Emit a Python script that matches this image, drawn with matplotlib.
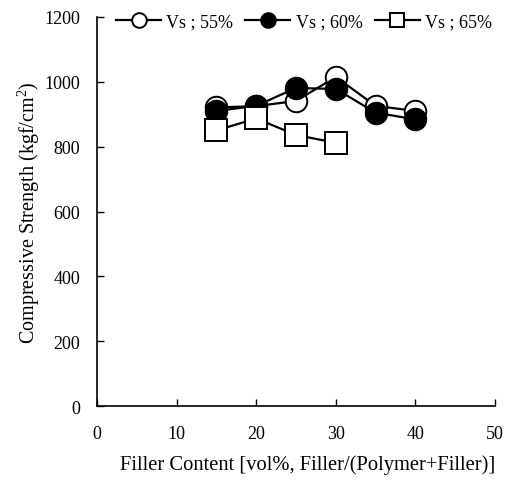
import matplotlib
matplotlib.use("Agg")
import matplotlib.pyplot as plt

plt.rcParams['font.family'] = ['Liberation Serif', 'DejaVu Serif']
plt.rcParams['mathtext.fontset'] = 'custom'
plt.rcParams['mathtext.rm'] = 'Liberation Serif'

# filler content (vol%)
filler = [15, 20, 25, 30, 35, 40]
filler_65 = [15, 20, 25, 30]

# compressive strength (kgf/cm2)
vs55 = [921, 925, 941, 1015, 926, 910]
vs60 = [910, 926, 981, 978, 905, 884]
vs65 = [850, 887, 836, 812]

labels = ['Vs ; 55%', 'Vs ; 60%', 'Vs ; 65%']

fig = plt.figure(figsize=(5.09, 4.81), dpi=100)
ax = fig.add_axes([0.1906, 0.1538, 0.7819, 0.8088])

ax.plot(filler, vs55, color='k', lw=1.6, marker='o', ms=15.5,
        mfc='white', mec='k', mew=1.4, label=labels[0], zorder=3)
ax.plot(filler, vs60, color='k', lw=1.6, marker='o', ms=15.5,
        mfc='k', mec='k', mew=1.4, label=labels[1], zorder=4)
ax.plot(filler_65, vs65, color='k', lw=1.6, marker='s', ms=15.5,
        mfc='white', mec='k', mew=1.4, label=labels[2], zorder=5)

ax.set_xlim(0, 50)
ax.set_ylim(0, 1200)
ax.set_xticks(range(0, 51, 10))
ax.set_yticks(range(0, 1201, 200))

for s in ['top', 'right']:
    ax.spines[s].set_visible(False)
for s in ['left', 'bottom']:
    ax.spines[s].set_linewidth(1.2)

ax.tick_params(direction='in', length=5, width=1, labelsize=13)
ax.tick_params(axis='x', pad=14)
ax.tick_params(axis='y', pad=12)

ax.set_xlabel('Filler Content [vol%, Filler/(Polymer+Filler)]', fontsize=14.8)
ax.xaxis.set_label_coords(0.528, -0.125)
ax.set_ylabel('Compressive Strength (kgf/cm$^2$)', fontsize=14.5, labelpad=2)

ax.legend(loc='center', bbox_to_anchor=(0.597, 0.952), bbox_transform=fig.transFigure,
          ncol=3, frameon=False, fontsize=13, markerscale=0.68, handlelength=2.5,
          handletextpad=0.28, columnspacing=0.67, borderpad=0)

fig.savefig('out.png', dpi=100)
